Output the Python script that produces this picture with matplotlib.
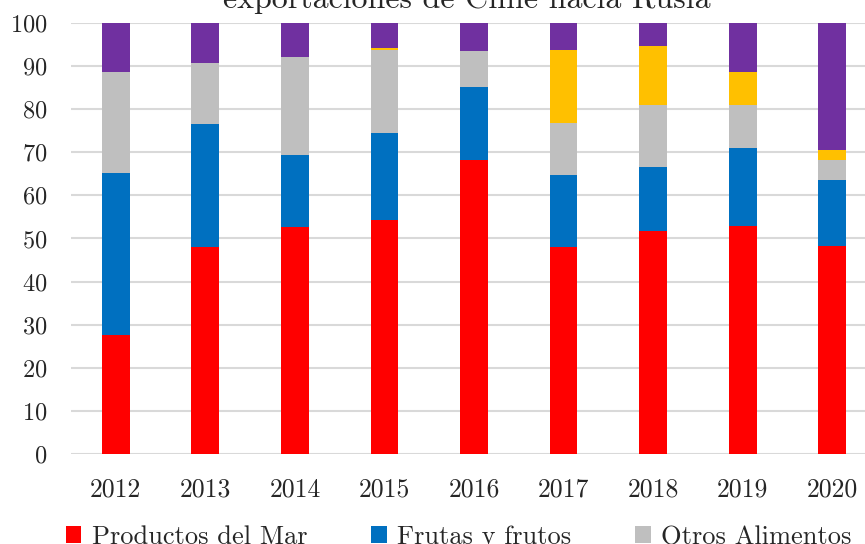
import numpy as np
import matplotlib
matplotlib.use("Agg")
import matplotlib.pyplot as plt

# data (percent share of exports per year)
years = ["2012", "2013", "2014", "2015", "2016", "2017", "2018", "2019", "2020"]
mar = [27.6, 48.0, 52.7, 54.3, 68.2, 48.0, 51.7, 53.0, 48.3]
frutas = [37.6, 28.6, 16.7, 20.1, 16.9, 16.7, 15.0, 17.9, 15.3]
otros_alim = [23.4, 14.1, 22.8, 19.3, 8.3, 12.1, 14.3, 10.1, 4.5]
bebidas = [0.0, 0.0, 0.0, 0.6, 0.0, 16.9, 13.7, 7.7, 2.5]
resto = [11.4, 9.3, 7.8, 5.7, 6.6, 6.3, 5.3, 11.3, 29.4]

series = [
    ("Productos del Mar", mar, "#ff0000"),
    ("Frutas y frutos", frutas, "#0070c0"),
    ("Otros Alimentos", otros_alim, "#bfbfbf"),
    ("Vinos", bebidas, "#ffc000"),
    ("Otros", resto, "#7030a0"),
]

plt.rcParams["font.family"] = ["cmr10", "DejaVu Serif"]
plt.rcParams["axes.formatter.use_mathtext"] = True
plt.rcParams["mathtext.fontset"] = "cm"

fig = plt.figure(figsize=(8.65, 5.44), dpi=100)
ax = fig.add_axes([71 / 865, 90 / 544, 806 / 865, 431 / 544])

x = np.arange(len(years))
bottom = np.zeros(len(years))
bars = []
for name, vals, col in series:
    vals = np.array(vals)
    b = ax.bar(x, vals, width=0.31, bottom=bottom, color=col, label=name, zorder=3)
    bars.append(b)
    bottom += vals

ax.set_xlim(-0.5, len(years) - 0.5)
ax.set_ylim(0, 100)
ax.set_yticks(range(0, 101, 10))
ax.set_xticks(x)
ax.set_xticklabels(years)
ax.grid(axis="y", color="#d9d9d9", linewidth=1.5, zorder=0)
for s in ax.spines.values():
    s.set_visible(False)
ax.tick_params(axis="both", length=0, colors="#262626")
ax.tick_params(axis="x", pad=17, labelsize=18.5)
ax.tick_params(axis="y", pad=17, labelsize=17.5)

fig.text(467 / 865, (544 - 8) / 544, "exportaciones de Chile hacia Rusia", ha="center",
         va="baseline", fontsize=23, color="#262626")

# legend filled column-wise, so reorder to get row-wise order
order = [0, 3, 1, 4, 2]
ax.legend([bars[i] for i in order], [series[i][0] for i in order],
          loc="upper left", bbox_to_anchor=(-0.023, -0.135), ncol=3, frameon=False,
          fontsize=19, handlelength=0.6, handleheight=0.6, handletextpad=0.4,
          columnspacing=2.4, labelcolor="#262626", borderpad=0)

fig.savefig("out.png", dpi=100)
